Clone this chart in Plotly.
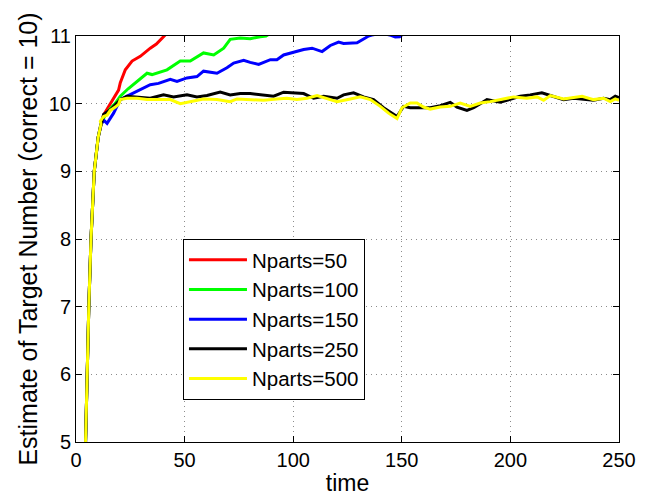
import plotly.graph_objects as go

# ---- data ----
start_t = [3.5, 4.3, 5.1, 5.9, 6.9, 8.4, 10.2, 11.5]
start_v = [3.8, 5.0, 6.0, 7.0, 8.0, 9.0, 9.5, 9.7]

t50 = [13, 15.8, 17.5, 19.6, 20.4, 22.7, 25.8, 29.6, 34.2, 37, 40.3, 43]
v50 = [9.85, 10.0, 10.1, 10.2, 10.31, 10.5, 10.63, 10.7, 10.82, 10.88, 10.99, 11.08]

t100 = [13, 15.8, 18, 20.4, 24, 28.1, 32.7, 35, 38, 41.9, 48, 52.6, 58.7, 63.4, 68,
        71, 75.6, 80.2, 84.8, 87.5, 90]
v100 = [9.8, 9.93, 10.0, 10.11, 10.22, 10.33, 10.45, 10.43, 10.46, 10.5, 10.63, 10.63,
        10.75, 10.72, 10.82, 10.95, 10.97, 10.96, 10.99, 11.0, 11.05]

t150 = [13, 14.3, 17.3, 20.4, 24, 28.1, 34.2, 38, 43.4, 46.5, 51.1, 55.7, 58.7, 64.9,
        69.5, 72.6, 77.2, 80.2, 84.1, 89.5, 92.5, 95.6, 100.2, 104.8, 108.7, 113.3,
        117.1, 120.9, 123.2, 129.4, 133.2, 134.7, 137, 141, 145, 147, 149, 151]
v150 = [9.75, 9.71, 9.86, 10.06, 10.12, 10.18, 10.28, 10.3, 10.36, 10.33, 10.38, 10.40,
        10.48, 10.45, 10.53, 10.60, 10.64, 10.61, 10.58, 10.65, 10.65, 10.72, 10.76,
        10.80, 10.82, 10.77, 10.86, 10.91, 10.89, 10.90, 10.97, 11.0, 11.02, 11.04,
        11.01, 10.985, 10.99, 11.04]

t250 = [12.7, 15.8, 18.1, 20.4, 23.5, 28.1, 34.2, 40.3, 44.9, 51.1, 55.7, 60.3, 66.4,
        71, 75.6, 80.2, 86.4, 91, 95.6, 100.2, 104.8, 109.4, 114, 120.2, 123.2, 127.8,
        132.4, 137, 141.6, 147.8, 150.8, 153.9, 158.5, 163.1, 167.7, 172.3, 175.4, 180,
        183.1, 189.2, 195.3, 199.9, 204.5, 209.1, 214.5, 218.4, 224.5, 229.1, 233.7,
        238.3, 242.9, 246, 248.3, 250]
v250 = [9.84, 9.91, 9.98, 10.06, 10.11, 10.10, 10.08, 10.13, 10.10, 10.13, 10.10, 10.12,
        10.17, 10.13, 10.15, 10.15, 10.13, 10.11, 10.17, 10.16, 10.15, 10.08, 10.11,
        10.08, 10.13, 10.16, 10.10, 10.06, 9.94, 9.81, 9.96, 9.94, 9.94, 9.94, 9.97,
        10.02, 9.95, 9.90, 9.94, 10.06, 10.02, 10.07, 10.11, 10.13, 10.16, 10.12, 10.06,
        10.08, 10.07, 10.05, 10.08, 10.06, 10.11, 10.09]

t500 = [11.2, 12.7, 14.3, 15.8, 18.1, 19.6, 20.4, 23.5, 28.1, 32.7, 37.3, 43.4, 48,
        52.6, 58.7, 64.9, 71, 74.1, 80.2, 86.4, 92.5, 97.1, 101.7, 106.4, 111, 115.6,
        120.2, 126.3, 130.9, 135.5, 140.1, 143.9, 147.8, 150.1, 153.9, 157, 160, 163.1,
        167.7, 172.3, 176.9, 181.5, 186.1, 190.7, 195.3, 201.5, 207.6, 212.3, 215.3,
        218.4, 224.5, 233, 238.3, 242.9, 246, 248.3, 250]
v500 = [9.74, 9.81, 9.83, 9.9, 9.95, 9.99, 10.06, 10.08, 10.08, 10.06, 10.06, 10.06,
        10.0, 10.03, 10.07, 10.06, 10.03, 10.07, 10.06, 10.05, 10.07, 10.08, 10.06,
        10.08, 10.12, 10.07, 10.03, 10.07, 10.10, 10.06, 9.96, 9.86, 9.78, 9.94, 10.01,
        10.01, 9.95, 9.92, 9.95, 9.96, 10.01, 9.96, 10.01, 10.03, 10.06, 10.10, 10.08,
        10.10, 10.05, 10.12, 10.07, 10.11, 10.06, 10.08, 10.03, 10.07, 10.05]

names = ["Nparts=50", "Nparts=100", "Nparts=150", "Nparts=250", "Nparts=500"]
colors = ["#FF0000", "#00FF00", "#0000FF", "#000000", "#FFFF00"]
series_t = [t50, t100, t150, t250, t500]
series_v = [v50, v100, v150, v250, v500]

x_ticks = [0, 50, 100, 150, 200, 250]
y_ticks = [5, 6, 7, 8, 9, 10, 11]

FONT = "Liberation Sans, Arial, Helvetica, sans-serif"

fig = go.Figure()
for name, col, ts, vs in zip(names, colors, series_t, series_v):
    fig.add_trace(go.Scatter(
        x=start_t + ts, y=start_v + vs, mode="lines", name=name,
        line=dict(color=col, width=3)))

axis_common = dict(
    showline=True, linecolor="black", linewidth=1, mirror="ticks",
    ticks="inside", ticklen=6, tickcolor="black", tickwidth=1,
    showgrid=True, gridcolor="#8c8c8c", gridwidth=1, griddash="1px,4px",
    zeroline=False, tickfont=dict(family=FONT, size=20, color="black"),
)

# the page body has an 8px margin, so the figure is 8px smaller and margins shifted
fig.update_layout(
    width=638, height=489,
    margin=dict(l=68, r=27, t=28, b=55, autoexpand=False),
    paper_bgcolor="white", plot_bgcolor="white",
    font=dict(family=FONT, color="black"),
    xaxis=dict(range=[0, 250], tickvals=x_ticks, **axis_common,
               title=dict(text="time", font=dict(family=FONT, size=23), standoff=4)),
    yaxis=dict(range=[5, 11], tickvals=y_ticks, **axis_common,
               title=dict(text="Estimate of Target Number (correct = 10)",
                          font=dict(family=FONT, size=25), standoff=4)),
    legend=dict(x=0.197, y=0.5, xanchor="left", yanchor="top",
                bgcolor="white", bordercolor="black", borderwidth=1,
                font=dict(family=FONT, size=20.5, color="black"),
                itemwidth=58, tracegroupgap=0),
    showlegend=True,
)

fig.write_html("out.html")
